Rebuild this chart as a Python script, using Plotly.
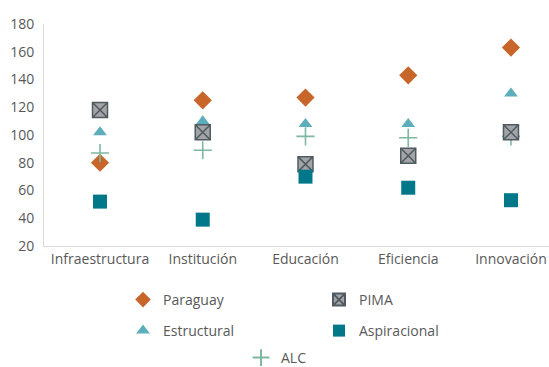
import plotly.graph_objects as go

categories = ["Infraestructura", "Institución", "Educación", "Eficiencia", "Innovación"]
paraguay = [80, 125, 127, 143, 163]
pima = [118, 102, 79, 85, 102]
estructural = [102, 110, 108, 108, 130]
aspiracional = [52, 39, 70, 62, 53]
alc = [87, 89, 99, 98, 99]
y_ticks = [20, 40, 60, 80, 100, 120, 140, 160, 180]

FONT = "Open Sans"
GRAY = "#595959"
H = 367
PB = 246  # plot bottom px
PT = 24   # plot top px

fig = go.Figure()
fig.add_trace(go.Scatter(x=categories, y=paraguay, name="Paraguay", mode="markers", legend="legend",
                         marker=dict(symbol="diamond", size=14, color="#C8652A")))
fig.add_trace(go.Scatter(x=categories, y=alc, name="ALC", mode="markers", legend="legend3",
                         marker=dict(symbol="cross-thin-open", size=13, color="#7DB89F",
                                     line=dict(color="#7DB89F", width=1.6))))
fig.add_trace(go.Scatter(x=categories, y=estructural, name="Estructural", mode="markers", legend="legend2",
                         marker=dict(symbol="triangle-up", size=12, color="#5CAEBB")))
fig.add_trace(go.Scatter(x=categories, y=pima, name="PIMA", mode="markers", legend="legend",
                         marker=dict(symbol="square-x", size=15, color="#A2A4A7",
                                     line=dict(color="#4F5B60", width=1.5))))
fig.add_trace(go.Scatter(x=categories, y=aspiracional, name="Aspiracional", mode="markers", legend="legend2",
                         marker=dict(symbol="square", size=14, color="#00788A")))


def ypaper(px):
    return (PB - px) / (PB - PT)


legend_common = dict(orientation="h", xanchor="left", yanchor="middle",
                     entrywidth=151, entrywidthmode="pixels", font=dict(family=FONT, size=14, color=GRAY),
                     bgcolor="rgba(0,0,0,0)", itemsizing="constant", traceorder="normal")

fig.update_layout(
    width=549, height=H,
    margin=dict(l=44, r=0, t=PT, b=H - PB, autoexpand=False),
    plot_bgcolor="white", paper_bgcolor="white",
    font=dict(family=FONT, size=14, color=GRAY),
    showlegend=True,
    legend=dict(**legend_common, x=(123 - 44) / 505, y=ypaper(300)),
    legend2=dict(**legend_common, x=(123 - 44) / 505, y=ypaper(331)),
    legend3=dict(**legend_common, x=(241 - 44) / 505, y=ypaper(358)),
    xaxis=dict(type="category", range=[-0.545, 4.37], showgrid=False, showline=True,
               linecolor="#D9D9D9", linewidth=1, ticks="", tickfont=dict(family=FONT, size=14, color=GRAY),
               zeroline=False),
    yaxis=dict(range=[20, 180], tickvals=y_ticks, showgrid=False, showline=True,
               linecolor="#D9D9D9", linewidth=1, ticks="", ticklabelstandoff=6,
               tickfont=dict(family=FONT, size=14, color=GRAY), zeroline=False),
)

fig.write_html("out.html", config={"displayModeBar": False},
               post_script="document.body.style.margin='0';document.body.style.overflow='hidden';")
